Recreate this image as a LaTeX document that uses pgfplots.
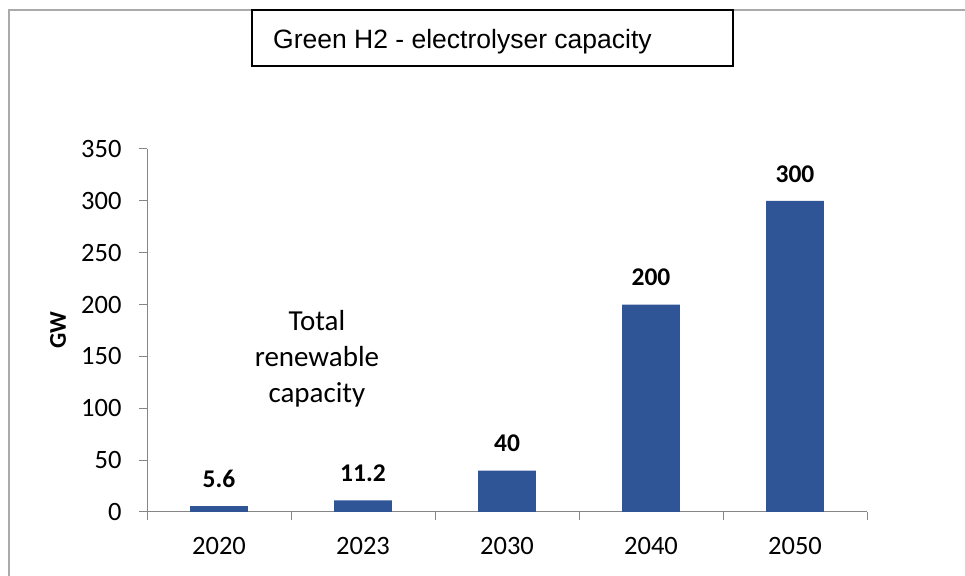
\documentclass[border=0pt]{standalone}
\usepackage{fontspec}
\setmainfont{Carlito}
\newfontfamily\arial{Liberation Sans}
\usepackage{pgfplots}
\pgfplotsset{compat=1.18}
\definecolor{barblue}{RGB}{47,85,151}
\definecolor{axgray}{RGB}{134,134,134}
\definecolor{framegray}{RGB}{170,170,170}

\begin{document}
\begin{tikzpicture}[x=1bp,y=1bp]
\useasboundingbox (0,0) rectangle (965,576);
% outer chart frame (left and top edges visible)
\draw[framegray, line width=1.3bp] (9,-5) -- (9,566) -- (970,566);
% title box
\draw[black, line width=1.4bp] (252,510) rectangle (733,566);
\node[anchor=base west, inner sep=0, font=\arial\fontsize{26.5bp}{30bp}\selectfont] at (273,527.5) {Green H2 - electrolyser capacity};

\begin{axis}[
  at={(147bp,64bp)}, anchor=south west,
  scale only axis, width=720bp, height=363bp,
  ybar, bar width=0.4,
  xmin=-0.5, xmax=4.5, ymin=0, ymax=350,
  xtick={0,1,2,3,4},
  xticklabels={2020,2023,2030,2040,2050},
  minor xtick={-0.5,0.5,1.5,2.5,3.5,4.5},
  ytick={0,50,...,350},
  axis lines=left,
  axis line style={axgray, line width=1bp, -},
  tick align=outside,
  major tick length=8bp, minor tick length=8bp,
  tick style={axgray, line width=1bp},
  major x tick style={draw=none},
  /pgf/number format/assume math mode=true,
  tick label style={font=\fontsize{26.5bp}{30bp}\selectfont, text=black},
  xticklabel style={anchor=base, yshift=-35bp},
  yticklabel style={anchor=east, xshift=-14bp},
  ylabel={GW},
  ylabel style={at={(axis description cs:-0.1236,0.5)}, anchor=center, font=\bfseries\fontsize{24bp}{28bp}\selectfont},
  nodes near coords,
  every node near coord/.append style={anchor=center, yshift=27bp, font=\bfseries\fontsize{25.5bp}{30bp}\selectfont, text=black},
]
\addplot[fill=barblue, draw=none] coordinates {
  (0,5.6) (1,11.2) (2,40) (3,200) (4,300)
};
\node[align=center, font=\fontsize{29bp}{36bp}\selectfont] at (axis cs:0.68,148) {Total\\renewable\\capacity};
\end{axis}
\end{tikzpicture}
\end{document}
